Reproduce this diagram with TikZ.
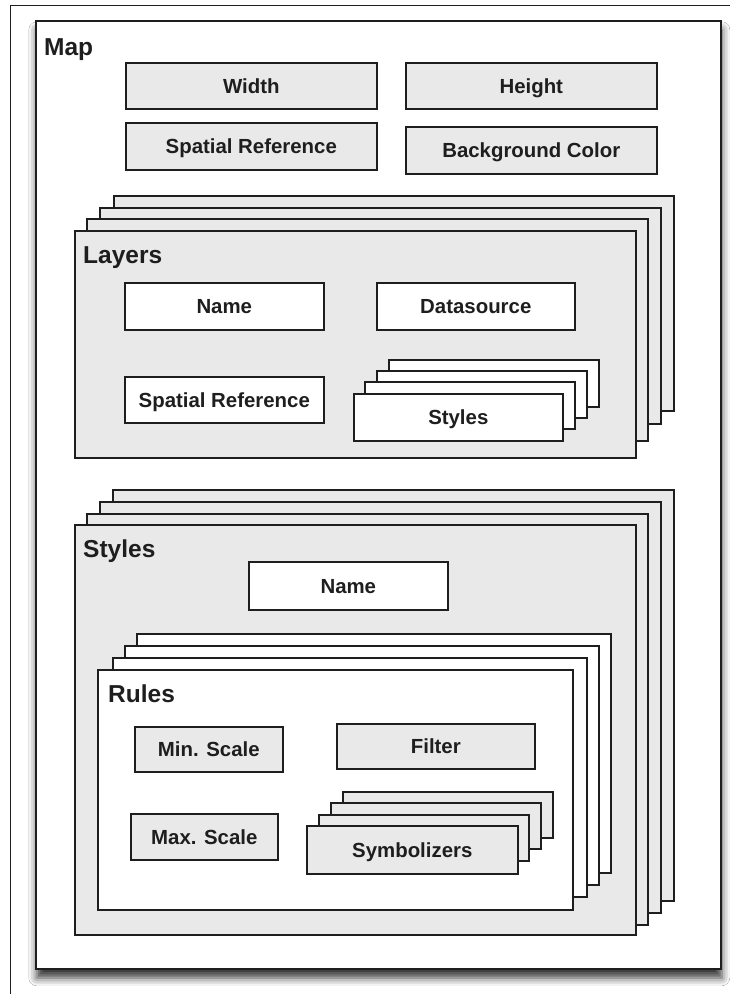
\documentclass[tikz,border=0pt]{standalone}
\usepackage{fontspec}
\setmainfont{Liberation Sans}
\usetikzlibrary{shadows.blur}
\definecolor{ink}{HTML}{1E1E1E}
\definecolor{panel}{HTML}{E9E9E9}
\newcommand{\boxfont}{\fontsize{20.4}{24}\selectfont\bfseries}
\newcommand{\headfont}{\fontsize{24.5}{29}\selectfont\bfseries}
\tikzset{
  slab/.style={draw=ink,line width=1.6pt,anchor=north west,inner sep=0pt,font=\boxfont,text=ink,text height=14.7pt,text depth=0pt},
  greyslab/.style={slab,fill=panel},
  whiteslab/.style={slab,fill=white},
  head/.style={anchor=base west,font=\headfont,text=ink,inner sep=0pt}
}
\begin{document}
\begin{tikzpicture}[x=1pt,y=-1pt]
  \useasboundingbox (0,0) rectangle (730,994);
  \fill[white] (0,0) rectangle (730,994);
  \draw[ink,line width=1pt] (10,994) -- (10,5) -- (730,5);
  % map
  \node[whiteslab,minimum width=685pt,minimum height=948pt,blur shadow={shadow xshift=1pt,shadow yshift=-9pt,shadow blur radius=8pt,shadow opacity=80}] (map) at (35,20) {};
  \node[head] (maptitle) at (44,55) {Map};
  \node[greyslab,minimum width=251pt,minimum height=46pt] (width) at (125,62) {Width};
  \node[greyslab,minimum width=251pt,minimum height=46pt] (height) at (405,62) {Height};
  \node[greyslab,minimum width=251pt,minimum height=47pt] (mapsrs) at (125,122) {Spatial Reference};
  \node[greyslab,minimum width=251pt,minimum height=47pt] (bgcolor) at (405,126) {Background Color};
  % layers
  \foreach \x/\y/\w/\h [count=\i] in {113/195/560/215,99/207/561/216,86/218/561/222}
    \node[greyslab,minimum width=\w pt,minimum height=\h pt] (layers\i) at (\x,\y) {};
  \node[greyslab,minimum width=561pt,minimum height=227pt] (layers) at (74,230) {};
  \node[head] (layerstitle) at (83,263) {Layers};
  \node[whiteslab,minimum width=199pt,minimum height=47pt] (layername) at (124,282) {Name};
  \node[whiteslab,minimum width=198pt,minimum height=47pt] (datasource) at (376,282) {Datasource};
  \node[whiteslab,minimum width=199pt,minimum height=46pt] (layersrs) at (124,376) {Spatial Reference};
  \foreach \x/\y [count=\i] in {388/359,376/370,364/381}
    \node[whiteslab,minimum width=210pt,minimum height=47pt] (layerstyles\i) at (\x,\y) {};
  \node[whiteslab,minimum width=209pt,minimum height=47pt] (layerstyles) at (353,393) {Styles};
  % styles
  \foreach \x/\y [count=\i] in {112/489,99/501,86/513}
    \node[greyslab,minimum width=561pt,minimum height=411pt] (styles\i) at (\x,\y) {};
  \node[greyslab,minimum width=561pt,minimum height=410pt] (styles) at (74,524) {};
  \node[head] (stylestitle) at (83,557) {Styles};
  \node[whiteslab,minimum width=199pt,minimum height=48pt] (stylename) at (248,561) {Name};
  % rules
  \foreach \x/\y [count=\i] in {136/633,124/645,112/657}
    \node[whiteslab,minimum width=474pt,minimum height=239pt] (rules\i) at (\x,\y) {};
  \node[whiteslab,minimum width=475pt,minimum height=240pt] (rules) at (97,669) {};
  \node[head] (rulestitle) at (108,702) {Rules};
  \node[greyslab,minimum width=148pt,minimum height=45pt] (minscale) at (134,726) {Min. Scale};
  \node[greyslab,minimum width=198pt,minimum height=45pt] (filter) at (336,723) {Filter};
  \node[greyslab,minimum width=147pt,minimum height=46pt] (maxscale) at (130,813) {Max. Scale};
  \foreach \x/\y [count=\i] in {342/791,330/802,318/814}
    \node[greyslab,minimum width=210pt,minimum height=46pt] (symbolizers\i) at (\x,\y) {};
  \node[greyslab,minimum width=211pt,minimum height=48pt] (symbolizers) at (306,825) {Symbolizers};
\end{tikzpicture}
\end{document}
